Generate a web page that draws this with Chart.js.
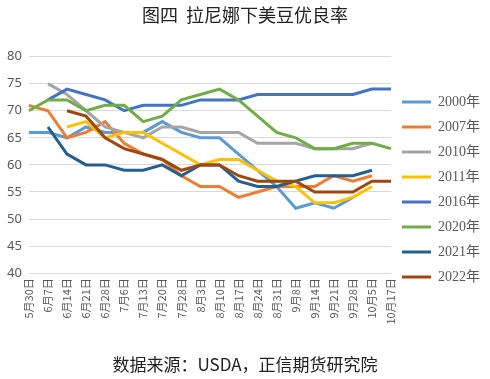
<!DOCTYPE html>
<html>
<head>
<meta charset="utf-8">
<script src="https://cdn.jsdelivr.net/npm/chart.js@4"></script>
<style>
  html, body { margin: 0; padding: 0; background: #fff; }
  #wrap { position: relative; width: 490px; height: 379px; }
</style>
</head>
<body>
<div id="wrap"><canvas id="goodChart" width="490" height="379"></canvas></div>
<script>
const categories = ['5月30日', '6月7日', '6月14日', '6月21日', '6月28日', '7月6日', '7月13日', '7月20日', '7月28日', '8月3日',
  '8月10日', '8月17日', '8月24日', '8月31日', '9月8日', '9月14日', '9月21日', '9月28日', '10月5日', '10月17日'];

const y2000 = [66, 66, 65, 67, 66, 66, 66, 68, 66, 65, 65, 62, 59, 56, 52, 53, 52, 54, null, null];
const y2007 = [71, 70, 65, 66, 68, 64, 62, 61, 58, 56, 56, 54, 55, 56, 56, 56, 58, 57, 58, null];
const y2010 = [null, 75, 73, 70, 67, 66, 65, 67, 67, 66, 66, 66, 64, 64, 64, 63, 63, 63, 64, null];
const y2011 = [null, null, 67, 68, 65, 66, 66, 64, 62, 60, 61, 61, 59, 57, 56, 53, 53, 54, 56, null];
const y2016 = [null, 72, 74, 73, 72, 70, 71, 71, 71, 72, 72, 72, 73, 73, 73, 73, 73, 73, 74, 74];
const y2020 = [70, 72, 72, 70, 71, 71, 68, 69, 72, 73, 74, 72, 69, 66, 65, 63, 63, 64, 64, 63];
const y2021 = [null, 67, 62, 60, 60, 59, 59, 60, 58, 60, 60, 57, 56, 56, 57, 58, 58, 58, 59, null];
const y2022 = [null, null, 70, 69, 65, 63, 62, 61, 59, 60, 60, 58, 57, 57, 57, 55, 55, 55, 57, 57];

const seriesNames = ['2000年', '2007年', '2010年', '2011年', '2016年', '2020年', '2021年', '2022年'];
const seriesValues = [y2000, y2007, y2010, y2011, y2016, y2020, y2021, y2022];
const seriesColors = ['#5b9bd5', '#ed7d31', '#a5a5a5', '#ffc000', '#4472c4', '#70ad47', '#255e91', '#9e480e'];

// later years drawn on top, like the original spreadsheet chart
const datasets = seriesNames.map((name, i) => ({
  label: name,
  data: seriesValues[i],
  borderColor: seriesColors[i],
  backgroundColor: seriesColors[i],
  borderWidth: 3,
  pointRadius: 0,
  tension: 0,
  order: seriesNames.length - i
}));

const ctx = document.getElementById('goodChart').getContext('2d');
new Chart(ctx, {
  type: 'line',
  data: { labels: categories, datasets: datasets },
  options: {
    responsive: false,
    animation: false,
    events: [],
    layout: { padding: { left: 0, right: 0, top: 2, bottom: 2 } },
    plugins: {
      title: {
        display: true,
        text: '图四  拉尼娜下美豆优良率',
        color: '#222',
        font: { family: '"Noto Sans CJK SC"', size: 18, weight: 'normal' },
        padding: { top: 2, bottom: 31 }
      },
      subtitle: {
        display: true,
        position: 'bottom',
        text: '数据来源：USDA，正信期货研究院',
        color: '#222',
        font: { family: '"Noto Sans CJK SC"', size: 17, weight: 'normal' },
        padding: { top: 25, bottom: 2 }
      },
      legend: {
        position: 'right',
        labels: {
          boxWidth: 29,
          boxHeight: 3,
          padding: 11,
          color: '#595959',
          font: { family: '"Liberation Serif", "Noto Sans CJK SC"', size: 14 },
          sort: (a, b) => a.datasetIndex - b.datasetIndex,
          generateLabels: (chart) => Chart.defaults.plugins.legend.labels.generateLabels(chart)
            .map(item => Object.assign(item, { lineWidth: 0, fillStyle: seriesColors[item.datasetIndex] }))
        }
      },
      tooltip: { enabled: false }
    },
    scales: {
      x: {
        grid: { display: false, drawTicks: false },
        border: { display: false },
        ticks: {
          autoSkip: false,
          maxRotation: 90,
          minRotation: 90,
          padding: 5,
          color: '#595959',
          font: { family: '"Noto Sans CJK SC"', size: 11 }
        }
      },
      y: {
        min: 40,
        max: 80,
        grid: { color: '#d9d9d9', drawTicks: false },
        border: { display: false },
        ticks: {
          stepSize: 5,
          padding: 7,
          color: '#595959',
          font: { family: '"Noto Sans", sans-serif', size: 13 }
        }
      }
    }
  }
});
</script>
</body>
</html>
